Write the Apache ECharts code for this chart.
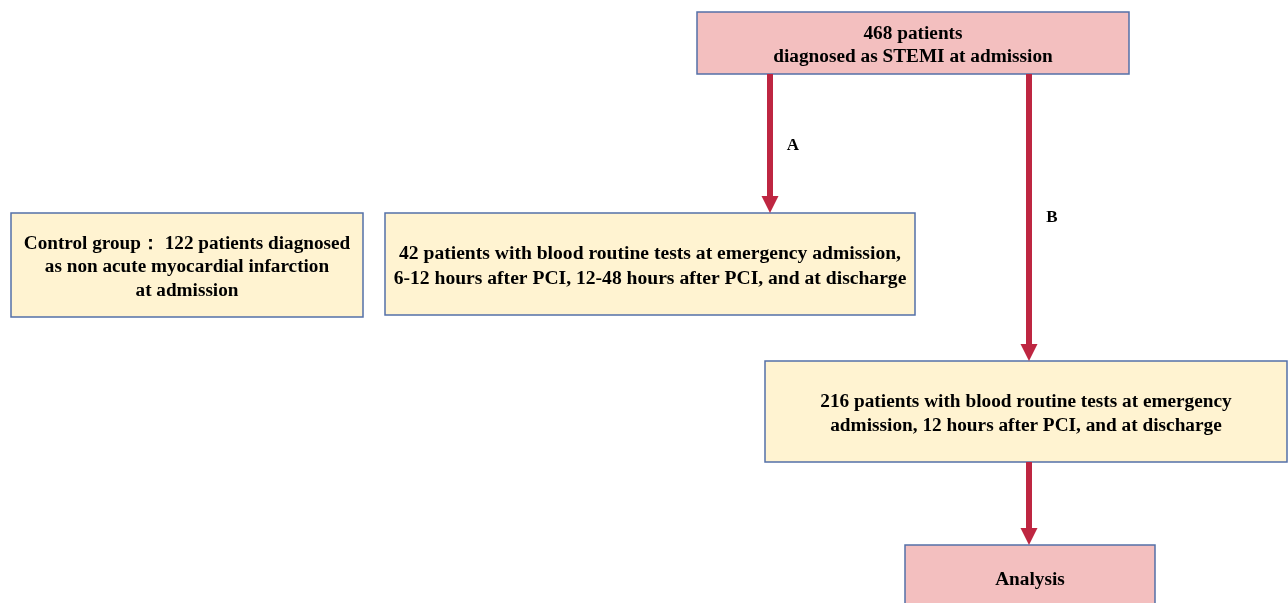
<!DOCTYPE html>
<html>
<head>
<meta charset="utf-8">
<script src="https://cdn.jsdelivr.net/npm/echarts@6/dist/echarts.min.js"></script>
<style>
html,body{margin:0;padding:0;background:#fff;}
#chart{width:1288px;height:603px;}
</style>
</head>
<body>
<div id="chart"></div>
<script>
// ---- content ----
const boxTexts = [
  '468 patients\ndiagnosed as STEMI at admission',
  'Control group\uFF1A 122 patients diagnosed\nas non acute myocardial infarction\nat admission',
  '42 patients with blood routine tests at emergency admission,\n6-12 hours after PCI, 12-48 hours after PCI, and at discharge',
  '216 patients with blood routine tests at emergency\nadmission, 12 hours after PCI, and at discharge',
  'Analysis'
];
const boxKinds = ['pink', 'yellow', 'yellow', 'yellow', 'pink'];
const arrowLabels = ['A', 'B', ''];

// ---- layout (pixels) ----
const boxLayout = [
  {x: 697, y: 12, w: 432, h: 62, lh: 23.5, fs: 19.3},
  {x: 11, y: 213, w: 352, h: 104, lh: 23.5, fs: 19.2},
  {x: 385, y: 213, w: 530, h: 102, lh: 25, fs: 19.6},
  {x: 765, y: 361, w: 522, h: 101, lh: 23.5, fs: 19.3},
  {x: 905, y: 545, w: 250, h: 66, lh: 23.5, fs: 19.3}
];
const textDy = 2.5;
const arrowLayout = [
  {x: 770, y1: 74, y2: 213, lx: 793, ly: 146},
  {x: 1029, y1: 74, y2: 361, lx: 1052, ly: 218},
  {x: 1029, y1: 462, y2: 545, lx: 0, ly: 0}
];
const fills = {pink: '#F3BFBF', yellow: '#FFF3D1'};
const borderColor = '#5470A8';
const arrowColor = '#BE2641';
const fontFam = '"Liberation Serif", "Times New Roman", serif';

const elements = [];
boxTexts.forEach((t, i) => {
  const b = boxLayout[i];
  elements.push({
    type: 'rect',
    shape: {x: b.x, y: b.y, width: b.w, height: b.h},
    style: {fill: fills[boxKinds[i]], stroke: borderColor, lineWidth: 1.5},
    z: 1
  });
  elements.push({
    type: 'text',
    x: b.x + b.w / 2,
    y: b.y + b.h / 2 + textDy,
    style: {
      text: t,
      fill: '#000',
      font: 'bold ' + b.fs + 'px ' + fontFam,
      align: 'center',
      verticalAlign: 'middle',
      lineHeight: b.lh
    },
    z: 3
  });
});
arrowLabels.forEach((lab, i) => {
  const a = arrowLayout[i];
  const headH = 17, headW = 17;
  elements.push({
    type: 'line',
    shape: {x1: a.x, y1: a.y1, x2: a.x, y2: a.y2 - headH + 1},
    style: {stroke: arrowColor, lineWidth: 6},
    z: 2
  });
  elements.push({
    type: 'polygon',
    shape: {points: [[a.x - headW / 2, a.y2 - headH], [a.x + headW / 2, a.y2 - headH], [a.x, a.y2]]},
    style: {fill: arrowColor},
    z: 2
  });
  if (lab) {
    elements.push({
      type: 'text',
      x: a.lx, y: a.ly,
      style: {text: lab, fill: '#000', font: 'bold 17px ' + fontFam, align: 'center', verticalAlign: 'middle'},
      z: 3
    });
  }
});

const chart = echarts.init(document.getElementById('chart'));
chart.setOption({
  backgroundColor: '#fff',
  animation: false,
  graphic: {elements: elements}
});
</script>
</body>
</html>
